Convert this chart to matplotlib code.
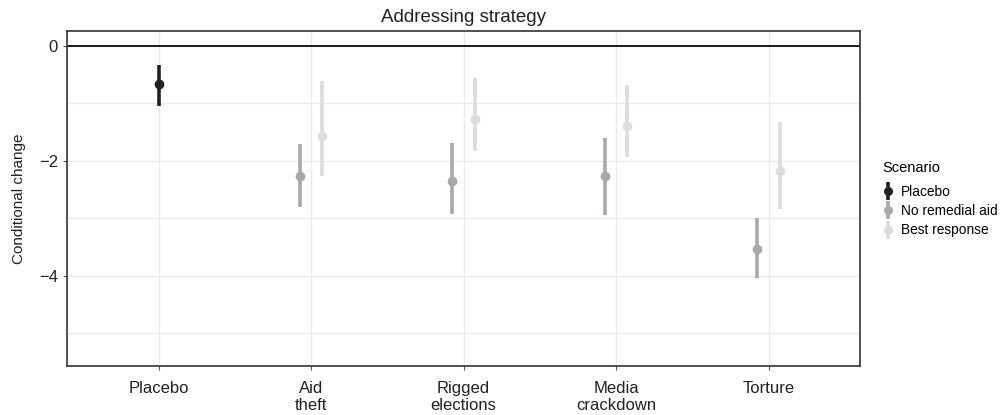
import numpy as np
import matplotlib
matplotlib.use("Agg")
import matplotlib.pyplot as plt
from matplotlib.lines import Line2D
from matplotlib.legend_handler import HandlerBase

plt.rcParams["font.family"] = ["Liberation Sans", "DejaVu Sans"]

categories = ["Placebo", "Aid\ntheft", "Rigged\nelections", "Media\ncrackdown", "Torture"]
scenarios = ["Placebo", "No remedial aid", "Best response"]
colors = {"Placebo": "#222222", "No remedial aid": "#a6a8ab", "Best response": "#dcdcde"}

# estimates with lower / upper interval bounds, per scenario (None = not shown)
placebo_est = [-0.67, None, None, None, None]
placebo_lo = [-1.04, None, None, None, None]
placebo_hi = [-0.33, None, None, None, None]

noaid_est = [None, -2.27, -2.35, -2.27, -3.53]
noaid_lo = [None, -2.81, -2.93, -2.95, -4.04]
noaid_hi = [None, -1.70, -1.69, -1.61, -3.00]

best_est = [None, -1.57, -1.27, -1.39, -2.18]
best_lo = [None, -2.27, -1.82, -1.94, -2.83]
best_hi = [None, -0.61, -0.56, -0.68, -1.32]

series = {
    "Placebo": (placebo_est, placebo_lo, placebo_hi, 0.0),
    "No remedial aid": (noaid_est, noaid_lo, noaid_hi, -0.075),
    "Best response": (best_est, best_lo, best_hi, 0.075),
}


class PointRangeKey(HandlerBase):
    # vertical bar with a dot, like a pointrange legend key
    def create_artists(self, legend, orig_handle, xdescent, ydescent,
                       width, height, fontsize, trans):
        c = orig_handle.get_color()
        cx = width / 2 - xdescent
        bar = Line2D([cx, cx], [-ydescent - 3, height - ydescent + 3], color=c,
                     lw=2.6, solid_capstyle="butt", transform=trans)
        dot = Line2D([cx], [height / 2 - ydescent], marker="o", ms=6.5,
                     color=c, mec="none", transform=trans)
        return [bar, dot]


fig = plt.figure(figsize=(10.04, 4.15), dpi=100)
ax = fig.add_axes([67 / 1004, 1 - 366 / 415, (860 - 67) / 1004, (366 - 31) / 415])

xs = np.arange(1, len(categories) + 1)
for name in scenarios:
    est, lo, hi, off = series[name]
    for x, e, l, h in zip(xs, est, lo, hi):
        if e is None:
            continue
        ax.plot([x + off, x + off], [l, h], color=colors[name], lw=2.6,
                solid_capstyle="butt", zorder=3)
        ax.plot(x + off, e, "o", color=colors[name], ms=7, mec="none", zorder=4)

ax.axhline(0, color="#1a1a1a", lw=1.4, zorder=2)

ax.set_xlim(0.4, 5.6)
ax.set_ylim(-5.57, 0.26)
ax.set_xticks(xs)
ax.set_xticklabels(categories, fontsize=12, color="#222222", linespacing=1.12)
ax.set_yticks([0, -2, -4])
ax.set_yticklabels(["0", "\u22122", "\u22124"], fontsize=12, color="#222222")
ax.set_yticks([-1, -3, -5], minor=True)
ax.grid(True, which="both", color="#ebebeb", lw=1.0, zorder=0)
ax.tick_params(axis="both", which="major", length=3, color="#555555", width=0.8)
ax.tick_params(axis="x", which="major", pad=8)
ax.tick_params(axis="y", which="minor", length=0)
for s in ax.spines.values():
    s.set_color("#333333")
    s.set_linewidth(1.2)

ax.set_ylabel("Conditional change", fontsize=11, color="#222222", labelpad=9)
ax.set_title("Addressing strategy", fontsize=13.5, color="#222222", pad=6.5)

handles = [Line2D([0], [0], color=colors[n]) for n in scenarios]
leg = fig.legend(handles, scenarios, title="Scenario", loc="upper left",
                 bbox_to_anchor=(877 / 1004, 1 - 155 / 415), frameon=False,
                 fontsize=9.9, title_fontsize=10.5, handlelength=0.8,
                 handletextpad=0.55, labelspacing=0.38, borderaxespad=0,
                 handler_map={Line2D: PointRangeKey()})
leg._legend_box.align = "left"
leg._legend_box.sep = 7.5  # a bit more room under the legend title

fig.savefig("out.png", dpi=100)
